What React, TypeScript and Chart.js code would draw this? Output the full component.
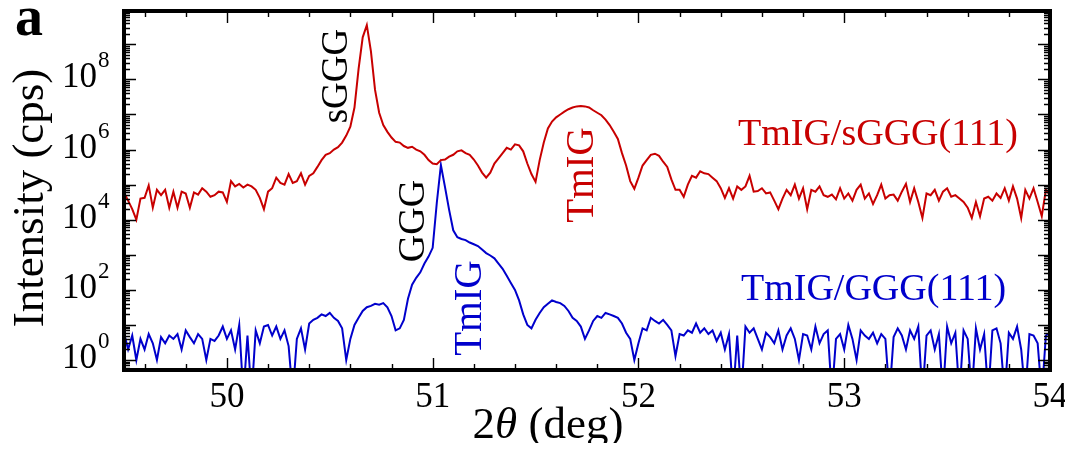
import React, { useEffect, useRef } from "react";
import { Chart, registerables } from "chart.js";

Chart.register(...registerables);

// 2θ scan positions (deg)
const twoTheta: number[] = [
  49.5, 49.52, 49.54, 49.56, 49.58, 49.6, 49.62, 49.64, 49.66, 49.68,
  49.7, 49.72, 49.74, 49.76, 49.78, 49.8, 49.82, 49.84, 49.86, 49.88,
  49.9, 49.92, 49.94, 49.96, 49.98, 50.0, 50.02, 50.04, 50.06, 50.08,
  50.1, 50.12, 50.14, 50.16, 50.18, 50.2, 50.22, 50.24, 50.26, 50.28,
  50.3, 50.32, 50.34, 50.36, 50.38, 50.4, 50.42, 50.44, 50.46, 50.48,
  50.5, 50.52, 50.54, 50.56, 50.58, 50.6, 50.62, 50.64, 50.66, 50.68,
  50.7, 50.72, 50.74, 50.76, 50.78, 50.8, 50.82, 50.84, 50.86, 50.88,
  50.9, 50.92, 50.94, 50.96, 50.98, 51.0, 51.02, 51.04, 51.06, 51.08,
  51.1, 51.12, 51.14, 51.16, 51.18, 51.2, 51.22, 51.24, 51.26, 51.28,
  51.3, 51.32, 51.34, 51.36, 51.38, 51.4, 51.42, 51.44, 51.46, 51.48,
  51.5, 51.52, 51.54, 51.56, 51.58, 51.6, 51.62, 51.64, 51.66, 51.68,
  51.7, 51.72, 51.74, 51.76, 51.78, 51.8, 51.82, 51.84, 51.86, 51.88,
  51.9, 51.92, 51.94, 51.96, 51.98, 52.0, 52.02, 52.04, 52.06, 52.08,
  52.1, 52.12, 52.14, 52.16, 52.18, 52.2, 52.22, 52.24, 52.26, 52.28,
  52.3, 52.32, 52.34, 52.36, 52.38, 52.4, 52.42, 52.44, 52.46, 52.48,
  52.5, 52.52, 52.54, 52.56, 52.58, 52.6, 52.62, 52.64, 52.66, 52.68,
  52.7, 52.72, 52.74, 52.76, 52.78, 52.8, 52.82, 52.84, 52.86, 52.88,
  52.9, 52.92, 52.94, 52.96, 52.98, 53.0, 53.02, 53.04, 53.06, 53.08,
  53.1, 53.12, 53.14, 53.16, 53.18, 53.2, 53.22, 53.24, 53.26, 53.28,
  53.3, 53.32, 53.34, 53.36, 53.38, 53.4, 53.42, 53.44, 53.46, 53.48,
  53.5, 53.52, 53.54, 53.56, 53.58, 53.6, 53.62, 53.64, 53.66, 53.68,
  53.7, 53.72, 53.74, 53.76, 53.78, 53.8, 53.82, 53.84, 53.86, 53.88,
  53.9, 53.92, 53.94, 53.96, 53.98, 54.0,
];

// TmIG/sGGG(111) intensity (cps)
const sgggCounts: number[] = [
  6.0e4, 3.5e4, 2.0e4, 1.0e4, 4.0e4, 4.2e4, 9.5e4, 2.2e4, 7.1e4, 5.0e4,
  7.1e4, 2.2e4, 6.3e4, 2.2e4, 6.3e4, 5.6e4, 2.2e4, 6.0e4, 5.2e4, 7.9e4,
  6.3e4, 4.5e4, 5.0e4, 6.3e4, 6.0e4, 3.2e4, 1.26e5, 8.9e4, 1.05e5, 8.3e4,
  1.0e5, 8.9e4, 7.1e4, 4.2e4, 2.0e4, 6.3e4, 7.9e4, 1.58e5, 1.12e5, 1.0e5,
  2.0e5, 1.12e5, 1.26e5, 2.1e5, 1.0e5, 1.78e5, 2.1e5, 3.2e5, 5.0e5, 7.1e5,
  7.9e5, 1.0e6, 1.17e6, 1.58e6, 2.5e6, 4.5e6, 1.58e7, 2.0e8, 1.58e9, 3.5e9,
  6.3e8, 5.0e7, 1.12e7, 5.0e6, 3.2e6, 2.2e6, 1.66e6, 1.58e6, 1.26e6, 1.12e6,
  1.2e6, 1.0e6, 8.9e5, 7.1e5, 5.0e5, 4.0e5, 3.8e5, 5.0e5, 5.2e5, 6.3e5,
  7.1e5, 8.9e5, 9.5e5, 7.9e5, 7.1e5, 5.2e5, 3.5e5, 2.2e5, 1.58e5, 2.2e5,
  4.0e5, 5.6e5, 7.9e5, 1.12e6, 1.0e6, 1.41e6, 1.32e6, 8.9e5, 4.0e5, 2.0e5,
  1.2e5, 5.0e5, 1.58e6, 4.0e6, 6.3e6, 8.3e6, 1.0e7, 1.2e7, 1.41e7, 1.58e7,
  1.7e7, 1.74e7, 1.7e7, 1.58e7, 1.32e7, 1.12e7, 9.5e6, 7.1e6, 5.0e6, 3.2e6,
  2.0e6, 7.9e5, 3.5e5, 1.26e5, 7.6e4, 1.58e5, 3.5e5, 5.0e5, 7.1e5, 7.6e5,
  6.6e5, 4.5e5, 3.2e5, 1.41e5, 7.1e4, 7.1e4, 4.5e4, 1.0e5, 1.78e5, 1.58e5,
  2.4e5, 2.1e5, 2.0e5, 1.58e5, 1.26e5, 7.9e4, 4.2e4, 7.9e4, 4.0e4, 8.9e4,
  7.1e4, 8.9e4, 1.78e5, 6.3e4, 6.6e4, 7.9e4, 5.6e4, 6.0e4, 3.5e4, 2.0e4,
  4.0e4, 7.1e4, 5.0e4, 1.0e5, 4.0e4, 7.9e4, 2.0e4, 7.1e4, 6.3e4, 8.9e4,
  5.0e4, 4.5e4, 5.2e4, 3.8e4, 7.9e4, 4.0e4, 5.6e4, 3.5e4, 7.1e4, 1.0e5,
  4.0e4, 5.6e4, 2.8e4, 5.0e4, 1.0e5, 4.0e4, 5.0e4, 5.2e4, 3.5e4, 6.3e4,
  1.05e5, 3.2e4, 7.9e4, 3.2e4, 1.12e4, 5.6e4, 5.0e4, 7.1e4, 3.5e4, 6.3e4,
  7.9e4, 4.5e4, 5.0e4, 4.0e4, 3.2e4, 2.2e4, 1.12e4, 3.2e4, 1.26e4, 4.0e4,
  4.5e4, 3.5e4, 5.6e4, 4.2e4, 7.9e4, 3.5e4, 8.9e4, 4.0e4, 1.12e4, 7.1e4,
  4.0e4, 7.9e4, 3.2e4, 1.26e4, 7.1e4, 5.0e4,
];

// TmIG/GGG(111) intensity (cps); 0.1 marks zero-count points below the axis
const gggCounts: number[] = [
  6, 2, 5, 1, 4, 2, 5.5, 3, 1, 4.5,
  3, 5, 4, 5.5, 2, 7, 4.5, 3, 5.5, 4,
  1, 4, 3.5, 5, 9, 4, 7, 2, 10, 0.1,
  5, 0.1, 7, 3, 9, 10, 5, 9, 4, 7,
  2.5, 0.1, 4, 8, 2, 11, 14, 16, 20, 18,
  22, 16, 13, 8, 1, 4, 10, 16, 25, 32,
  35, 40, 38, 42, 32, 18, 7, 8, 14, 56,
  140, 220, 316, 562, 891, 1580, 30000, 360000, 85000, 19000,
  5000, 3160, 2820, 2630, 2240, 2000, 1780, 1410, 1120, 955,
  794, 562, 398, 251, 158, 100, 50, 20, 10, 8,
  14, 22, 32, 40, 50, 45, 42, 35, 25, 16,
  13, 9, 4, 7, 13, 18, 16, 22, 20, 18,
  16, 11, 6, 4, 1, 3, 8, 7, 16, 13,
  11, 14, 10, 7, 1.3, 5.5, 5, 7, 6, 11,
  6, 8, 5.5, 7, 3.5, 6, 2, 5.5, 0.1, 5,
  0.1, 9, 6, 8, 4, 2, 6, 4.5, 3, 7,
  2, 5, 8, 4, 1, 5.5, 5, 2, 9, 3,
  5.5, 7, 0.1, 4, 5.5, 2, 10, 4, 1, 7,
  5, 4, 6, 3, 5.5, 4, 0.1, 4.5, 8, 5,
  2, 7, 4, 9, 0.1, 5, 7, 2, 5.5, 0.1,
  9, 3, 6, 0.1, 7, 4, 0.1, 8, 2, 5.5,
  0.1, 7, 8, 3, 0.1, 6, 4, 9, 2, 0.1,
  5.5, 5, 3, 0.1, 5, 6,
];

const xTickValues: number[] = [50, 51, 52, 53, 54];
const yTickExponents: number[] = [0, 2, 4, 6, 8];

const RED = "#c80000";
const BLUE = "#0000cc";
const SERIF = "'Liberation Serif', 'Times New Roman', serif";

const framePlugin = {
  id: "frame",
  afterDatasetsDraw(chart: any) {
    const { ctx, chartArea: a } = chart;
    const xs = chart.scales.x;
    const ys = chart.scales.y;
    ctx.save();
    ctx.strokeStyle = "#000";
    ctx.fillStyle = "#000";

    // x ticks (inward, top & bottom)
    ctx.lineWidth = 1.4;
    for (let k = 248; k <= 270; k++) {
      const v = k / 5;
      if (v < xs.min || v > xs.max) continue;
      const px = Math.round(xs.getPixelForValue(v)) + 0.5;
      const major = k % 5 === 0;
      const len = major ? 12 : 6;
      ctx.beginPath();
      ctx.moveTo(px, a.bottom);
      ctx.lineTo(px, a.bottom - len);
      ctx.moveTo(px, a.top);
      ctx.lineTo(px, a.top + len);
      ctx.stroke();
    }
    // y ticks (inward, left & right)
    for (let d = -1; d <= 10; d++) {
      for (let m = 1; m <= 9; m++) {
        const v = m * Math.pow(10, d);
        if (v < ys.min || v > ys.max) continue;
        const py = Math.round(ys.getPixelForValue(v)) + 0.5;
        const len = m === 1 ? 12 : 6;
        ctx.beginPath();
        ctx.moveTo(a.left, py);
        ctx.lineTo(a.left + len, py);
        ctx.moveTo(a.right, py);
        ctx.lineTo(a.right - len, py);
        ctx.stroke();
      }
    }
    // frame
    ctx.lineWidth = 4;
    ctx.strokeRect(a.left, a.top, a.right - a.left, a.bottom - a.top);

    // x tick labels
    ctx.font = `35px ${SERIF}`;
    ctx.textAlign = "center";
    ctx.textBaseline = "alphabetic";
    for (const v of xTickValues) {
      ctx.fillText(String(v), xs.getPixelForValue(v), 399);
    }
    // y tick labels 10^n
    for (const e of yTickExponents) {
      const py = ys.getPixelForValue(Math.pow(10, e));
      ctx.font = `35px ${SERIF}`;
      ctx.textAlign = "right";
      ctx.fillText("10", 89, py + 8);
      ctx.font = `23px ${SERIF}`;
      ctx.textAlign = "left";
      ctx.fillText(String(e), 90, py - 12);
    }

    // y axis title
    ctx.save();
    ctx.translate(35, 190);
    ctx.rotate(-Math.PI / 2);
    ctx.font = `45px ${SERIF}`;
    ctx.textAlign = "center";
    ctx.fillText("Intensity (cps)", 0, 0);
    ctx.restore();

    // x axis title: 2θ (deg)
    ctx.textAlign = "left";
    const p1 = "2";
    const p2 = "θ";
    const p3 = " (deg)";
    ctx.font = `45px ${SERIF}`;
    const w1 = ctx.measureText(p1).width;
    const w3 = ctx.measureText(p3).width;
    ctx.font = `italic 45px ${SERIF}`;
    const w2 = ctx.measureText(p2).width;
    let cx = 540 - (w1 + w2 + w3) / 2;
    const by = 430;
    ctx.font = `45px ${SERIF}`;
    ctx.fillText(p1, cx, by);
    cx += w1;
    ctx.font = `italic 45px ${SERIF}`;
    ctx.fillText(p2, cx, by);
    cx += w2;
    ctx.font = `45px ${SERIF}`;
    ctx.fillText(p3, cx, by);

    // panel letter
    ctx.font = `bold 56px ${SERIF}`;
    ctx.textAlign = "left";
    ctx.fillText("a", 7, 27);

    // rotated peak annotations
    const vert = (text: string, color: string, size: number, bx: number, cy: number) => {
      ctx.save();
      ctx.translate(bx, cy);
      ctx.rotate(-Math.PI / 2);
      ctx.font = `${size}px ${SERIF}`;
      ctx.fillStyle = color;
      ctx.textAlign = "center";
      ctx.fillText(text, 0, 0);
      ctx.restore();
    };
    vert("sGGG", "#000", 37, 339, 68);
    vert("GGG", "#000", 38, 416, 213);
    vert("TmIG", RED, 39, 585, 167);
    vert("TmIG", BLUE, 39, 473, 300);

    // sample labels
    ctx.textAlign = "left";
    ctx.font = `38px ${SERIF}`;
    ctx.fillStyle = RED;
    ctx.fillText("TmIG/sGGG(111)", 730, 137);
    ctx.fillStyle = BLUE;
    ctx.fillText("TmIG/GGG(111)", 733, 292);
    ctx.restore();
  },
};

export default function App() {
  const ref = useRef<HTMLCanvasElement | null>(null);
  useEffect(() => {
    if (!ref.current) return;
    const chart = new Chart(ref.current, {
      type: "line",
      data: {
        datasets: [
          {
            label: "TmIG/sGGG(111)",
            data: twoTheta.map((t, i) => ({ x: t, y: sgggCounts[i] })),
            borderColor: RED,
            borderWidth: 2,
            pointRadius: 0,
            tension: 0,
            fill: false,
          },
          {
            label: "TmIG/GGG(111)",
            data: twoTheta.map((t, i) => ({ x: t, y: gggCounts[i] })),
            borderColor: BLUE,
            borderWidth: 2,
            pointRadius: 0,
            tension: 0,
            fill: false,
          },
        ],
      },
      options: {
        animation: false,
        responsive: false,
        layout: { padding: { left: 116, right: 15, top: 3, bottom: 73 } },
        scales: {
          x: { type: "linear", min: 49.5, max: 54, display: false },
          y: { type: "logarithmic", min: 0.52, max: 8.9e9, display: false },
        },
        plugins: { legend: { display: false }, tooltip: { enabled: false } },
      },
      plugins: [framePlugin],
    });
    return () => chart.destroy();
  }, []);
  return <canvas ref={ref} width={1057} height={435} style={{ display: "block" }} />;
}
